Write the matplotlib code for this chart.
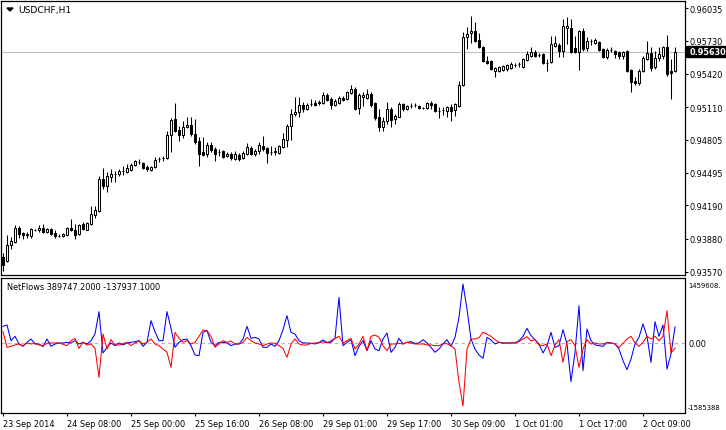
import matplotlib
matplotlib.use("Agg")
import matplotlib.pyplot as plt
from matplotlib.patches import Polygon, Rectangle
import numpy as np

# USDCHF H1 candles, 23 Sep 2014 16:00 .. 2 Oct 2014 17:00
opens = [
    0.93707, 0.93670, 0.93819, 0.93848, 0.93979, 0.93932, 0.93913, 0.93904, 0.93960, 0.93960,
    0.93979, 0.93941, 0.93969, 0.93932, 0.93904, 0.93904, 0.93913, 0.93979, 0.93960, 0.93922,
    0.94016, 0.93960, 0.94016, 0.94100, 0.94138, 0.94437, 0.94372, 0.94456, 0.94484, 0.94484,
    0.94512, 0.94503, 0.94521, 0.94568, 0.94596, 0.94587, 0.94550, 0.94521, 0.94550, 0.94624,
    0.94634, 0.94634, 0.94849, 0.94999, 0.94896, 0.94849, 0.94924, 0.94943, 0.94858, 0.94793,
    0.94690, 0.94671, 0.94755, 0.94718, 0.94690, 0.94699, 0.94653, 0.94671, 0.94624, 0.94662,
    0.94634, 0.94671, 0.94727, 0.94671, 0.94699, 0.94746, 0.94727, 0.94690, 0.94690, 0.94681,
    0.94737, 0.94802, 0.94933, 0.95046, 0.95064, 0.95130, 0.95092, 0.95139, 0.95149, 0.95158,
    0.95149, 0.95223, 0.95186, 0.95130, 0.95149, 0.95195, 0.95186, 0.95242, 0.95280, 0.95102,
    0.95205, 0.95195, 0.95233, 0.95149, 0.95017, 0.94924, 0.94980, 0.95092, 0.94999, 0.95017,
    0.95139, 0.95092, 0.95120, 0.95130, 0.95120, 0.95102, 0.95102, 0.95149, 0.95139, 0.95074,
    0.95083, 0.95074, 0.95111, 0.95083, 0.95120, 0.95317, 0.95766, 0.95804, 0.95823, 0.95738,
    0.95673, 0.95542, 0.95542, 0.95448, 0.95448, 0.95458, 0.95467, 0.95476, 0.95504, 0.95514,
    0.95486, 0.95551, 0.95589, 0.95626, 0.95598, 0.95607, 0.95523, 0.95532, 0.95682, 0.95691,
    0.95635, 0.95851, 0.95851, 0.95663, 0.95626, 0.95823, 0.95663, 0.95729, 0.95710, 0.95720,
    0.95654, 0.95579, 0.95645, 0.95635, 0.95626, 0.95589, 0.95635, 0.95458, 0.95354, 0.95336,
    0.95448, 0.95560, 0.95617, 0.95486, 0.95570, 0.95589, 0.95673, 0.95448, 0.95448,
]
highs = [
    0.93745, 0.93913, 0.93894, 0.94007, 0.93997, 0.93941, 0.93941, 0.93979, 0.93969, 0.94007,
    0.94016, 0.93979, 0.93979, 0.93960, 0.93922, 0.93932, 0.93988, 0.94063, 0.94016, 0.94016,
    0.94035, 0.94035, 0.94185, 0.94185, 0.94465, 0.94540, 0.94503, 0.94531, 0.94512, 0.94531,
    0.94559, 0.94578, 0.94587, 0.94615, 0.94624, 0.94596, 0.94568, 0.94559, 0.94643, 0.94643,
    0.94653, 0.94887, 0.95008, 0.95149, 0.94933, 0.94980, 0.95017, 0.95017, 0.94999, 0.94830,
    0.94830, 0.94784, 0.94784, 0.94737, 0.94718, 0.94709, 0.94690, 0.94690, 0.94699, 0.94681,
    0.94699, 0.94774, 0.94746, 0.94718, 0.94784, 0.94840, 0.94737, 0.94746, 0.94737, 0.94755,
    0.94868, 0.94952, 0.95092, 0.95205, 0.95205, 0.95158, 0.95149, 0.95186, 0.95177, 0.95177,
    0.95252, 0.95242, 0.95205, 0.95186, 0.95214, 0.95214, 0.95261, 0.95317, 0.95298, 0.95242,
    0.95252, 0.95280, 0.95252, 0.95158, 0.95092, 0.95017, 0.95158, 0.95111, 0.95046, 0.95158,
    0.95149, 0.95130, 0.95149, 0.95149, 0.95130, 0.95111, 0.95158, 0.95167, 0.95149, 0.95111,
    0.95111, 0.95120, 0.95139, 0.95149, 0.95354, 0.95813, 0.95860, 0.95963, 0.95907, 0.95804,
    0.95682, 0.95589, 0.95551, 0.95486, 0.95495, 0.95504, 0.95514, 0.95532, 0.95523, 0.95532,
    0.95570, 0.95635, 0.95673, 0.95645, 0.95617, 0.95617, 0.95560, 0.95776, 0.95776, 0.95710,
    0.95935, 0.95954, 0.95935, 0.95776, 0.95832, 0.95851, 0.95766, 0.95748, 0.95757, 0.95729,
    0.95663, 0.95663, 0.95673, 0.95645, 0.95635, 0.95635, 0.95645, 0.95467, 0.95392, 0.95467,
    0.95589, 0.95729, 0.95673, 0.95635, 0.95673, 0.95682, 0.95785, 0.95560, 0.95673,
]
lows = [
    0.93576, 0.93660, 0.93782, 0.93838, 0.93885, 0.93876, 0.93885, 0.93885, 0.93950, 0.93941,
    0.93932, 0.93932, 0.93913, 0.93885, 0.93894, 0.93894, 0.93904, 0.93950, 0.93876, 0.93913,
    0.93960, 0.93960, 0.94007, 0.94072, 0.94128, 0.94344, 0.94316, 0.94409, 0.94409, 0.94465,
    0.94475, 0.94493, 0.94512, 0.94559, 0.94578, 0.94531, 0.94512, 0.94512, 0.94540, 0.94596,
    0.94606, 0.94624, 0.94690, 0.94877, 0.94793, 0.94821, 0.94915, 0.94840, 0.94765, 0.94559,
    0.94653, 0.94643, 0.94690, 0.94606, 0.94653, 0.94634, 0.94643, 0.94615, 0.94615, 0.94606,
    0.94624, 0.94662, 0.94662, 0.94653, 0.94671, 0.94699, 0.94587, 0.94662, 0.94662, 0.94671,
    0.94727, 0.94737, 0.94802, 0.95027, 0.95017, 0.95064, 0.95083, 0.95120, 0.95120, 0.95130,
    0.95139, 0.95167, 0.95092, 0.95120, 0.95139, 0.95167, 0.95177, 0.95233, 0.95083, 0.95046,
    0.95120, 0.95186, 0.95111, 0.94989, 0.94887, 0.94887, 0.94952, 0.94924, 0.94952, 0.95017,
    0.95074, 0.95083, 0.95102, 0.95111, 0.95092, 0.95092, 0.95092, 0.95092, 0.95064, 0.95008,
    0.95036, 0.95017, 0.94980, 0.95027, 0.95111, 0.95308, 0.95654, 0.95710, 0.95720, 0.95663,
    0.95532, 0.95514, 0.95458, 0.95392, 0.95439, 0.95448, 0.95448, 0.95467, 0.95486, 0.95486,
    0.95476, 0.95542, 0.95579, 0.95579, 0.95579, 0.95514, 0.95448, 0.95523, 0.95673, 0.95579,
    0.95579, 0.95701, 0.95617, 0.95617, 0.95458, 0.95635, 0.95635, 0.95691, 0.95701, 0.95635,
    0.95570, 0.95560, 0.95626, 0.95570, 0.95560, 0.95560, 0.95439, 0.95252, 0.95317, 0.95317,
    0.95439, 0.95551, 0.95448, 0.95467, 0.95542, 0.95560, 0.95401, 0.95186, 0.95439,
]
closes = [
    0.93632, 0.93819, 0.93857, 0.93979, 0.93922, 0.93913, 0.93922, 0.93969, 0.93960, 0.93979,
    0.93941, 0.93969, 0.93922, 0.93904, 0.93904, 0.93922, 0.93979, 0.93960, 0.93913, 0.94007,
    0.93969, 0.94025, 0.94110, 0.94147, 0.94437, 0.94372, 0.94465, 0.94484, 0.94484, 0.94512,
    0.94512, 0.94540, 0.94568, 0.94606, 0.94596, 0.94540, 0.94531, 0.94550, 0.94615, 0.94624,
    0.94634, 0.94849, 0.94989, 0.94887, 0.94849, 0.94924, 0.94943, 0.94858, 0.94784, 0.94671,
    0.94662, 0.94755, 0.94709, 0.94671, 0.94690, 0.94643, 0.94671, 0.94634, 0.94671, 0.94624,
    0.94681, 0.94737, 0.94671, 0.94699, 0.94755, 0.94718, 0.94681, 0.94690, 0.94699, 0.94746,
    0.94812, 0.94933, 0.95046, 0.95064, 0.95130, 0.95092, 0.95130, 0.95139, 0.95130, 0.95149,
    0.95223, 0.95177, 0.95130, 0.95167, 0.95195, 0.95177, 0.95252, 0.95280, 0.95092, 0.95223,
    0.95223, 0.95233, 0.95130, 0.95008, 0.94924, 0.94980, 0.95092, 0.94989, 0.95027, 0.95139,
    0.95092, 0.95120, 0.95120, 0.95130, 0.95102, 0.95102, 0.95149, 0.95130, 0.95074, 0.95074,
    0.95083, 0.95111, 0.95074, 0.95139, 0.95317, 0.95766, 0.95794, 0.95823, 0.95729, 0.95673,
    0.95542, 0.95523, 0.95467, 0.95476, 0.95486, 0.95495, 0.95504, 0.95514, 0.95504, 0.95514,
    0.95560, 0.95607, 0.95626, 0.95589, 0.95598, 0.95523, 0.95523, 0.95701, 0.95710, 0.95635,
    0.95869, 0.95869, 0.95626, 0.95626, 0.95823, 0.95654, 0.95729, 0.95729, 0.95738, 0.95645,
    0.95579, 0.95645, 0.95645, 0.95607, 0.95589, 0.95626, 0.95448, 0.95345, 0.95336, 0.95448,
    0.95570, 0.95617, 0.95476, 0.95570, 0.95607, 0.95673, 0.95420, 0.95430, 0.95630,
]

# NetFlows indicator buffers, in thousands
netflow_blue_k = [
    404, 437, 46, 154, -37, -96, 4, 87, -37, -37,
    -104, 87, -96, -37, -12, -12, 4, -12, 46, -37,
    4, -37, 46, 212, 770, -262, -121, -12, -79, -12,
    -62, -12, 4, 21, 46, -96, 4, 545, 270, 46,
    46, 770, 354, -121, 4, 71, 87, -79, -312, -329,
    254, 295, 4, -79, 4, 4, -12, -79, -37, -37,
    87, 404, 104, 129, 87, -121, -121, -37, -96, 46,
    320, 670, 254, 212, 46, -12, -12, -21, -37, 4,
    62, 4, 4, 104, 1127, -79, 4, 71, -329, -96,
    46, -204, 46, -162, -204, 87, 237, -245, -121, 104,
    -37, 4, 21, -21, -12, 71, -12, -121, -245, -162,
    -37, 71, -96, 129, 628, 1459.608, 836, 87, -162, -312,
    -395, 129, 62, -37, 4, -12, -12, -12, -12, 46,
    154, 354, 171, 71, -37, -262, -79, 254, -121, -79,
    320, -37, -978, -245, 919, -703, 337, 46, -62, -79,
    -96, 4, -12, -37, -162, -453, -678, -412, -37, 129,
    462, 154, -495, 520, 154, 437, -661, -287, 389.7472,
]
netflow_red_k = [
    270, -121, -96, -62, -37, -79, -12, -37, -21, -62,
    -79, -21, -12, -12, -12, -46, -79, 46, 104, -146,
    4, -62, -37, -146, -869, 212, -162, 71, -62, -62,
    -29, 4, -79, -12, 37, -37, 4, 87, -37, -79,
    -162, -245, -620, 254, 104, 4, 46, -37, 4, 154,
    312, 295, 154, -121, -37, 46, 4, 37, -37, -37,
    4, 129, 46, -12, -37, -79, -37, -12, -21, -79,
    -146, -370, -37, 87, -37, -62, -62, -21, -12, -12,
    21, -12, 46, 104, 154, -12, 46, 104, -162, -37,
    154, -204, 154, 187, 129, -79, -204, -37, -37, -21,
    -37, 4, -12, -37, -37, -37, -62, -62, -79, -79,
    -29, -29, -79, -162, -994, -1585.388, -162, 87, 87, 121,
    254, 212, 154, 71, 4, -21, -12, -12, -12, 21,
    87, 146, 37, 71, -62, -79, -37, -329, -62, 71,
    -495, 21, 71, -79, -620, -162, 71, -37, -12, -37,
    -37, -12, -12, -37, -121, -21, 87, 154, -12, -96,
    4, 154, 87, 154, 46, 154, 795, -262, -137.9371,
]

price_ticks = [0.96035, 0.95730, 0.95420, 0.95110, 0.94805, 0.94495, 0.94190, 0.93880, 0.93570]
flow_ticks = [1459608, 0, -1585388]
flow_tick_labels = ["1459608.", "0.00", "-1585388"]
time_labels = ["23 Sep 2014", "24 Sep 08:00", "25 Sep 00:00", "25 Sep 16:00",
               "26 Sep 08:00", "29 Sep 01:00", "29 Sep 17:00", "30 Sep 09:00",
               "1 Oct 01:00", "1 Oct 17:00", "2 Oct 09:00"]
bars_per_label = 16
symbol = "USDCHF,H1"

W, H = 726, 431
FONT = "DejaVu Sans"
FS = 5.9


def fx(px):
    return px / W


def fy(py):
    return 1 - py / H


fig = plt.figure(figsize=(W / 100, H / 100), dpi=100)
fig.patch.set_facecolor("white")

ax = fig.add_axes([fx(1), fy(276), fx(685) - fx(1), fy(2) - fy(276)])
ax2 = fig.add_axes([fx(1), fy(414), fx(685) - fx(1), fy(279) - fy(414)])

o, h, l, c = (np.array(v) for v in (opens, highs, lows, closes))
x = np.arange(len(c))
last_price = c[-1]

# --- price window ---
ax.axhline(last_price, color="#c0c0c0", lw=0.8, zorder=1)
ax.vlines(x, l, h, color="black", lw=0.75, zorder=2)
up = c >= o
ax.bar(x, np.abs(c - o), bottom=np.minimum(o, c), width=0.55,
       color=np.where(up, "white", "black"), edgecolor="black", lw=0.75, zorder=3)

ax.set_xlim(-0.5, 170.5)
ax.set_ylim(0.93539, 0.96103)
ax.set_xticks([])
ax.yaxis.tick_right()
ax.set_yticks(price_ticks)
ax.set_yticklabels([f"{p:.5f}" for p in price_ticks])
ax.tick_params(axis="y", direction="out", length=2.2, width=0.8, pad=1.2,
               labelsize=FS, colors="black")
for lab in ax.get_yticklabels():
    lab.set_family(FONT)
for s in ax.spines.values():
    s.set_linewidth(0.9)

# --- NetFlows window ---
blue = np.array(netflow_blue_k) * 1000
red = np.array(netflow_red_k) * 1000
ax2.axhline(0, color="#b4b4b4", lw=0.8, ls=(0, (3, 3)), zorder=1)
ax2.plot(x, blue, color="#0000ff", lw=0.75, zorder=2)
ax2.plot(x, red, color="#ff0000", lw=0.75, zorder=3)
ax2.set_xlim(-0.5, 170.5)
ax2.set_ylim(-1759680, 1609920)
ax2.yaxis.tick_right()
ax2.set_yticks(flow_ticks)
ax2.set_yticklabels(flow_tick_labels)
ax2.tick_params(axis="y", length=0, pad=2.2, labelsize=FS)
ax2.set_xticks(x[::bars_per_label][:len(time_labels)])
ax2.set_xticklabels(time_labels)
ax2.tick_params(axis="x", direction="out", length=2.2, width=0.8, pad=2.0, labelsize=FS)
for lab in ax2.get_xticklabels():
    lab.set_ha("left")
    lab.set_family(FONT)
for lab in ax2.get_yticklabels():
    lab.set_family(FONT)
    # the long extreme values must fit in the narrow right margin
    if len(lab.get_text()) > 5:
        lab.set_fontsize(4.9)
for s in ax2.spines.values():
    s.set_linewidth(0.9)

# --- labels ---
fig.add_artist(Polygon([[fx(7), fy(9)], [fx(13), fy(9)], [fx(10), fy(12)]],
                       closed=True, color="black", transform=fig.transFigure))
fig.text(fx(18), fy(10.5), symbol, fontsize=6.6, family=FONT, va="center", ha="left")
fig.text(fx(7), fy(287), f"NetFlows {blue[-1]:.4f} {red[-1]:.4f}",
         fontsize=FS, family=FONT, va="center", ha="left")

# current price tag
ybox = ax.transData.transform((0, last_price))[1]
fig.add_artist(Rectangle((fx(686), ybox / H - 5.5 / H), fx(726) - fx(686), 11 / H,
                         color="black", transform=fig.transFigure))
fig.text(fx(690), ybox / H, f"{last_price:.5f}", color="white", fontsize=FS,
         family=FONT, va="center", ha="left", fontweight="bold")

fig.savefig("out.png", dpi=100)
